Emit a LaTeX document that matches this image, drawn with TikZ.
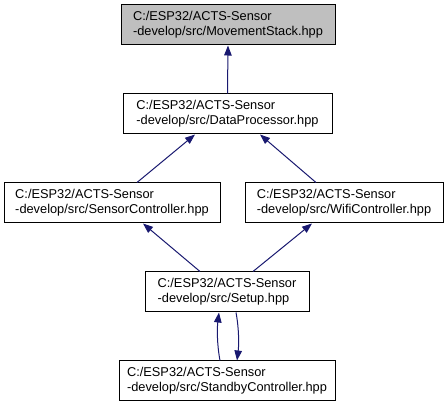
\documentclass[tikz,border=0pt]{standalone}
\usepackage{fontspec}
\setmainfont{Liberation Sans}
\usetikzlibrary{arrows.meta}
\definecolor{edgecol}{HTML}{191970}
\definecolor{hlfill}{HTML}{BFBFBF}
\tikzset{
  filebox/.style={draw=black, line width=1pt, minimum height=40pt, inner xsep=0pt, inner ysep=0pt,
    align=left, font=\fontsize{12.8}{15}\selectfont, anchor=center},
  inc/.style={draw=edgecol, line width=1pt, -{Triangle[length=10pt,width=7.5pt]}, color=edgecol}
}
\begin{document}
\begin{tikzpicture}[x=1pt,y=-1pt]
\useasboundingbox (0,0) rectangle (448,409);
\fill[white] (0,0) rectangle (448,409);
\node[filebox, fill=hlfill, minimum width=214pt] (ms) at (228,25) {C:/ESP32/ACTS-Sensor\\-develop/src/MovementStack.hpp};
\node[filebox, minimum width=209pt] (dp) at (227.5,114) {C:/ESP32/ACTS-Sensor\\-develop/src/DataProcessor.hpp};
\node[filebox, minimum width=216pt] (sc) at (112,203) {C:/ESP32/ACTS-Sensor\\-develop/src/SensorController.hpp};
\node[filebox, minimum width=198pt] (wc) at (344,203) {C:/ESP32/ACTS-Sensor\\-develop/src/WifiController.hpp};
\node[filebox, minimum width=164pt] (su) at (227,292) {C:/ESP32/ACTS-Sensor\\-develop/src/Setup.hpp};
\node[filebox, minimum width=216pt] (sb) at (227,381) {C:/ESP32/ACTS-Sensor\\-develop/src/StandbyController.hpp};
\draw[inc] (dp.north) -- (ms.south);
\draw[inc] ([xshift=25pt]sc.north) -- ([xshift=-32.5pt]dp.south);
\draw[inc] ([xshift=-28pt]wc.north) -- ([xshift=32.5pt]dp.south);
\draw[inc] ([xshift=-27pt]su.north) -- ([xshift=31pt]sc.south);
\draw[inc] ([xshift=26pt]su.north) -- ([xshift=-32pt]wc.south);
\draw[inc] ([xshift=-7pt]sb.north) .. controls +(-3,-16) and +(-2,16) .. ([xshift=-8pt]su.south);
\draw[inc] ([xshift=9pt]su.south) .. controls +(3,16) and +(2,-16) .. ([xshift=10pt]sb.north);
\end{tikzpicture}
\end{document}
